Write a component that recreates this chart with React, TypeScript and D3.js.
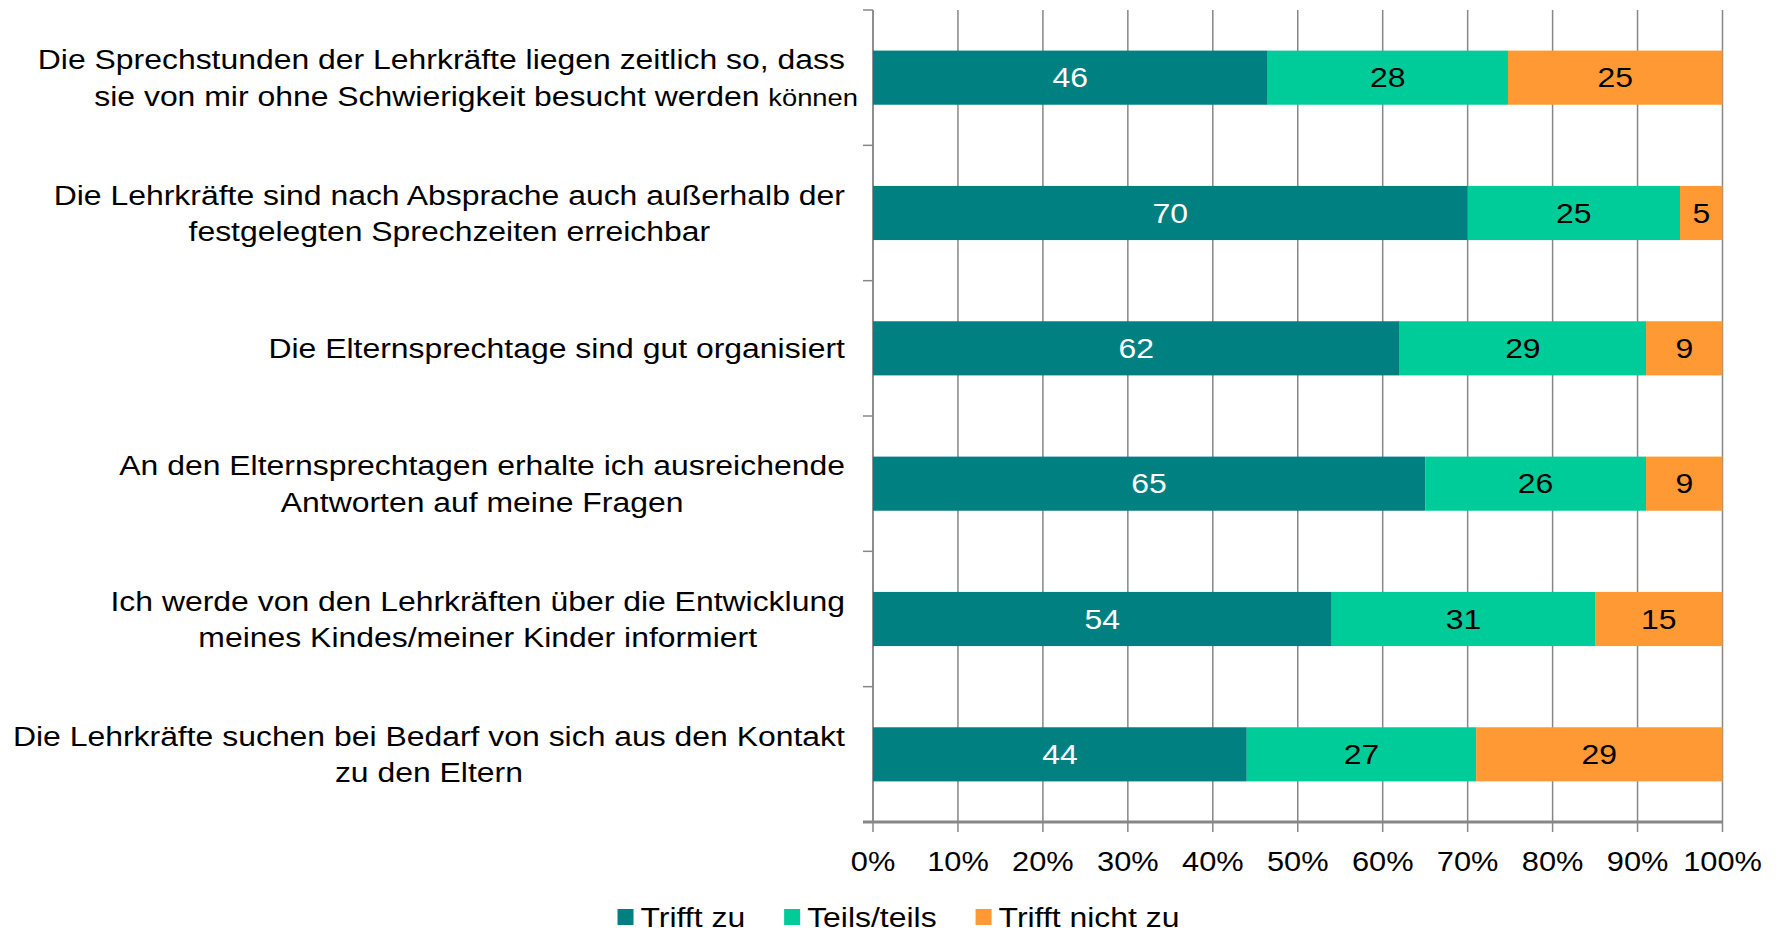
import * as d3 from "d3";
import { useEffect, useRef } from "react";

// Survey statements, one array of lines per bar (top to bottom).
const statements: string[][] = [
  ["Die Sprechstunden der Lehrkräfte liegen zeitlich so, dass", "sie von mir ohne Schwierigkeit besucht werden"],
  ["Die Lehrkräfte sind nach Absprache auch außerhalb der", "festgelegten Sprechzeiten erreichbar"],
  ["Die Elternsprechtage sind gut organisiert"],
  ["An den Elternsprechtagen erhalte ich ausreichende", "Antworten auf meine Fragen"],
  ["Ich werde von den Lehrkräften über die Entwicklung", "meines Kindes/meiner Kinder informiert"],
  ["Die Lehrkräfte suchen bei Bedarf von sich aus den Kontakt", "zu den Eltern"],
];
// the first statement has a stray, smaller word hanging off its second line
const overflowWord = "können";

const seriesNames = ["Trifft zu", "Teils/teils", "Trifft nicht zu"];
const trifftZu = [46, 70, 62, 65, 54, 44];
const teilsTeils = [28, 25, 29, 26, 31, 27];
const trifftNichtZu = [25, 5, 9, 9, 15, 29];

const COLORS = ["#008080", "#00CC99", "#FF9933"];
const LABEL_COLORS = ["#ffffff", "#000000", "#000000"];

const W = 1783;
const H = 934;
const FONT = "'Liberation Sans', Arial, sans-serif";
// the source image is stretched sideways, so every text is widened a bit
const SX = 1.14;

type Sel = d3.Selection<SVGTextElement, unknown, null, undefined>;
const place = (t: Sel, x: number, y: number) =>
  t.attr("transform", `translate(${x},${y}) scale(${SX},1)`);
const widthOf = (t: Sel) => (t.node() as SVGTextElement).getComputedTextLength() * SX;

const App = () => {
  const svgRef = useRef<SVGSVGElement>(null);

  useEffect(() => {
    const svgEl = svgRef.current;
    if (!svgEl) return;
    const svg = d3.select(svgEl);
    svg.selectAll("*").remove();

    const rows = statements.map((_, i) => ({
      id: String(i),
      [seriesNames[0]]: trifftZu[i],
      [seriesNames[1]]: teilsTeils[i],
      [seriesNames[2]]: trifftNichtZu[i],
    }));

    const stacked = d3
      .stack<Record<string, number | string>>()
      .keys(seriesNames)
      .value((d, k) => d[k] as number)
      .offset(d3.stackOffsetExpand)(rows);

    const left = 873;
    const right = 1722.5;
    const top = 10;
    const bottom = 822;

    const x = d3.scaleLinear().domain([0, 1]).range([left, right]);
    const y = d3
      .scaleBand<string>()
      .domain(rows.map((r) => r.id as string))
      .range([top, bottom])
      .paddingInner(0.6)
      .paddingOuter(0.3);

    const grey = "#878787";

    // vertical gridlines, running a little past the baseline as ticks
    svg
      .append("g")
      .selectAll("line")
      .data(x.ticks(10))
      .join("line")
      .attr("x1", (d) => x(d))
      .attr("x2", (d) => x(d))
      .attr("y1", top)
      .attr("y2", bottom + 10)
      .attr("stroke", grey)
      .attr("stroke-width", 1.5);

    // category axis with ticks between bands
    const bounds = d3.range(rows.length + 1).map((i) => top + i * y.step());
    svg
      .append("line")
      .attr("x1", left)
      .attr("x2", left)
      .attr("y1", top)
      .attr("y2", bottom)
      .attr("stroke", grey)
      .attr("stroke-width", 1.5);
    svg
      .append("g")
      .selectAll("line")
      .data(bounds)
      .join("line")
      .attr("x1", left - 10)
      .attr("x2", left)
      .attr("y1", (d) => d)
      .attr("y2", (d) => d)
      .attr("stroke", grey)
      .attr("stroke-width", 1.5);

    svg
      .append("line")
      .attr("x1", left - 10)
      .attr("x2", right)
      .attr("y1", bottom)
      .attr("y2", bottom)
      .attr("stroke", grey)
      .attr("stroke-width", 3);

    // bars
    const layers = svg
      .append("g")
      .selectAll("g")
      .data(stacked)
      .join("g")
      .attr("fill", (_, i) => COLORS[i]);

    layers
      .selectAll("rect")
      .data((s) => s.map((seg) => ({ seg, key: s.key })))
      .join("rect")
      .attr("x", (d) => x(d.seg[0]))
      .attr("width", (d) => x(d.seg[1]) - x(d.seg[0]))
      .attr("y", (d) => y(d.seg.data.id as string)!)
      .attr("height", y.bandwidth());

    // value labels
    layers
      .selectAll("text")
      .data((s, si) => s.map((seg) => ({ seg, key: s.key, si })))
      .join("text")
      .attr(
        "transform",
        (d) =>
          `translate(${(x(d.seg[0]) + x(d.seg[1])) / 2},${
            y(d.seg.data.id as string)! + y.bandwidth() / 2
          }) scale(${SX},1)`
      )
      .attr("dy", "0.35em")
      .attr("text-anchor", "middle")
      .attr("fill", (d) => LABEL_COLORS[d.si])
      .style("font", `28px ${FONT}`)
      .text((d) => String(d.seg.data[d.key]));

    // x tick labels
    svg
      .append("g")
      .selectAll("text")
      .data(x.ticks(10))
      .join("text")
      .attr("transform", (d) => `translate(${x(d)},871) scale(${SX},1)`)
      .attr("text-anchor", "middle")
      .style("font", `27px ${FONT}`)
      .text(d3.format(".0%"));

    // category labels: lines centred within a right-aligned block
    const labelRight = left - 28;
    const lineGap = 36.5;
    statements.forEach((lines, i) => {
      const cy = y(String(i))! + y.bandwidth() / 2;
      const g = svg.append("g");
      const texts = lines.map((line) =>
        g
          .append("text")
          .attr("dy", "0.35em")
          .attr("text-anchor", "middle")
          .style("font", `28px ${FONT}`)
          .text(line)
      );
      const cx = labelRight - d3.max(texts.map(widthOf))! / 2;
      texts.forEach((t, li) => place(t, cx, cy + (li - (lines.length - 1) / 2) * lineGap));

      if (i === 0) {
        // second line runs on with a smaller word, ending just short of the axis
        const last = texts[texts.length - 1];
        last.text(null).attr("text-anchor", "end");
        last.append("tspan").text(lines[lines.length - 1] + " ");
        last.append("tspan").style("font-size", "24px").text(overflowWord);
        place(last, left - 15, cy + lineGap / 2);
      }
    });

    // legend
    const legend = svg.append("g");
    const gap = 39;
    let lx = 0;
    seriesNames.forEach((name, i) => {
      const item = legend.append("g").attr("transform", `translate(${lx},0)`);
      item
        .append("rect")
        .attr("x", 0)
        .attr("y", -8)
        .attr("width", 16)
        .attr("height", 16)
        .attr("fill", COLORS[i]);
      const t = item
        .append("text")
        .attr("dy", "0.35em")
        .style("font", `28px ${FONT}`)
        .text(name);
      place(t, 23, 0);
      lx += 23 + widthOf(t) + gap;
    });
    const legendW = lx - gap;
    legend.attr("transform", `translate(${898.5 - legendW / 2},917)`);
  }, []);

  return (
    <svg
      ref={svgRef}
      width={W}
      height={H}
      style={{ position: "absolute", left: 0, top: 0, background: "#fff" }}
    />
  );
};

export default App;
